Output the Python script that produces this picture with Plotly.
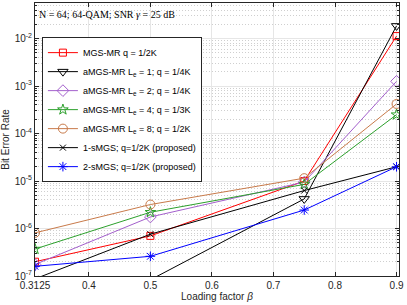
import plotly.graph_objects as go

beta = [0.3125, 0.5, 0.75, 0.9]

ber_mgs = [2.0e-7, 7.0e-7, 1.0e-5, 1.13e-2]
ber_amgs1 = [3.0e-8, 8.3e-8, 4.2e-6, 1.85e-2]
ber_amgs2 = [1.75e-7, 1.75e-6, 9.5e-6, 1.26e-3]
ber_amgs4 = [3.7e-7, 2.2e-6, 8.5e-6, 2.5e-4]
ber_amgs8 = [8.1e-7, 3.2e-6, 1.15e-5, 4.2e-4]
ber_1smgs = [8.7e-8, 7.6e-7, 6.3e-6, 2.0e-5]
ber_2smgs = [1.6e-7, 2.6e-7, 2.45e-6, 2.0e-5]

names = [
    "MGS-MR q = 1/2K",
    "aMGS-MR L<sub>e</sub> = 1; q = 1/4K",
    "aMGS-MR L<sub>e</sub> = 2; q = 1/4K",
    "aMGS-MR L<sub>e</sub> = 4; q = 1/3K",
    "aMGS-MR L<sub>e</sub> = 8; q = 1/2K",
    "1-sMGS; q=1/2K (proposed)",
    "2-sMGS; q=1/2K (proposed)",
]

x_ticks = [0.3125, 0.4, 0.5, 0.6, 0.7, 0.8, 0.9]
x_ticklabels = ["0.3125", "0.4", "0.5", "0.6", "0.7", "0.8", "0.9"]
y_ticks = [1e-7, 1e-6, 1e-5, 1e-4, 1e-3, 1e-2]
y_ticklabels = ["10<sup>-7</sup>", "10<sup>-6</sup>", "10<sup>-5</sup>",
                "10<sup>-4</sup>", "10<sup>-3</sup>", "10<sup>-2</sup>"]

YMIN_LOG = -7
YMAX_LOG = -1.25

styles = [
    dict(color="#ff0000", symbol="square-open", size=7),
    dict(color="#000000", symbol="triangle-down-open", size=9),
    dict(color="#a35fcc", symbol="diamond-open", size=9),
    dict(color="#2ca02c", symbol="star-open", size=8),
    dict(color="#c87a4a", symbol="circle-open", size=9),
    dict(color="#000000", symbol="x-thin-open", size=6),
    dict(color="#0000ff", symbol="asterisk-open", size=8),
]

series = [ber_mgs, ber_amgs1, ber_amgs2, ber_amgs4, ber_amgs8, ber_1smgs, ber_2smgs]

fig = go.Figure()
for ys, nm, st in zip(series, names, styles):
    fig.add_trace(go.Scatter(
        x=beta, y=ys, name=nm, mode="lines+markers", cliponaxis=True,
        line=dict(color=st["color"], width=1),
        marker=dict(symbol=st["symbol"], size=st["size"], color=st["color"],
                    line=dict(color=st["color"], width=1)),
    ))

minor_vals = []
for e in range(-8, -1):
    for m in range(2, 10):
        minor_vals.append(m * 10.0 ** e)

axis_color = "#262626"
grid_color = "#e6e6e6"

fig.update_layout(
    width=407, height=305,
    margin=dict(l=35, r=8, t=3, b=29),
    paper_bgcolor="white", plot_bgcolor="white",
    font=dict(family="Liberation Sans, Arial, sans-serif", size=10, color=axis_color),
    showlegend=True,
    legend=dict(
        x=0.019, y=0.875, xanchor="left", yanchor="top",
        bgcolor="white", bordercolor=axis_color, borderwidth=1,
        font=dict(size=9, color="#000000"),
        tracegroupgap=0, itemwidth=30,
    ),
    xaxis=dict(
        range=[0.3125, 0.904], tickmode="array", tickvals=x_ticks, ticktext=x_ticklabels,
        showgrid=True, gridcolor=grid_color, gridwidth=1,
        showline=True, linecolor=axis_color, linewidth=1, mirror="allticks",
        ticks="inside", ticklen=4, tickcolor=axis_color, zeroline=False,
        title=dict(text="Loading factor <i>β</i>", font=dict(size=10), standoff=0),
    ),
    yaxis=dict(
        type="log", range=[YMIN_LOG, YMAX_LOG], tickmode="array",
        tickvals=y_ticks, ticktext=y_ticklabels,
        showgrid=True, gridcolor=grid_color, gridwidth=1,
        showline=True, linecolor=axis_color, linewidth=1, mirror="allticks",
        ticks="inside", ticklen=4, tickcolor=axis_color, zeroline=False,
        minor=dict(tickmode="array", tickvals=minor_vals, ticks="inside", ticklen=2,
                   tickcolor=axis_color, showgrid=True, gridcolor="#cfcfcf",
                   griddash="1px,2px", gridwidth=1),
        title=dict(text="Bit Error Rate", font=dict(size=10), standoff=3),
    ),
    annotations=[dict(
        text="N = 64; 64-QAM; SNR <i>γ</i> = 25 dB",
        xref="paper", yref="paper", x=0.006, y=0.985, xanchor="left", yanchor="top",
        showarrow=False, font=dict(family="Liberation Serif, DejaVu Serif, serif", size=10, color="#000000"),
    )],
)

fig.write_html("out.html", config={"displayModeBar": False},
               post_script="document.body.style.margin='0';")
